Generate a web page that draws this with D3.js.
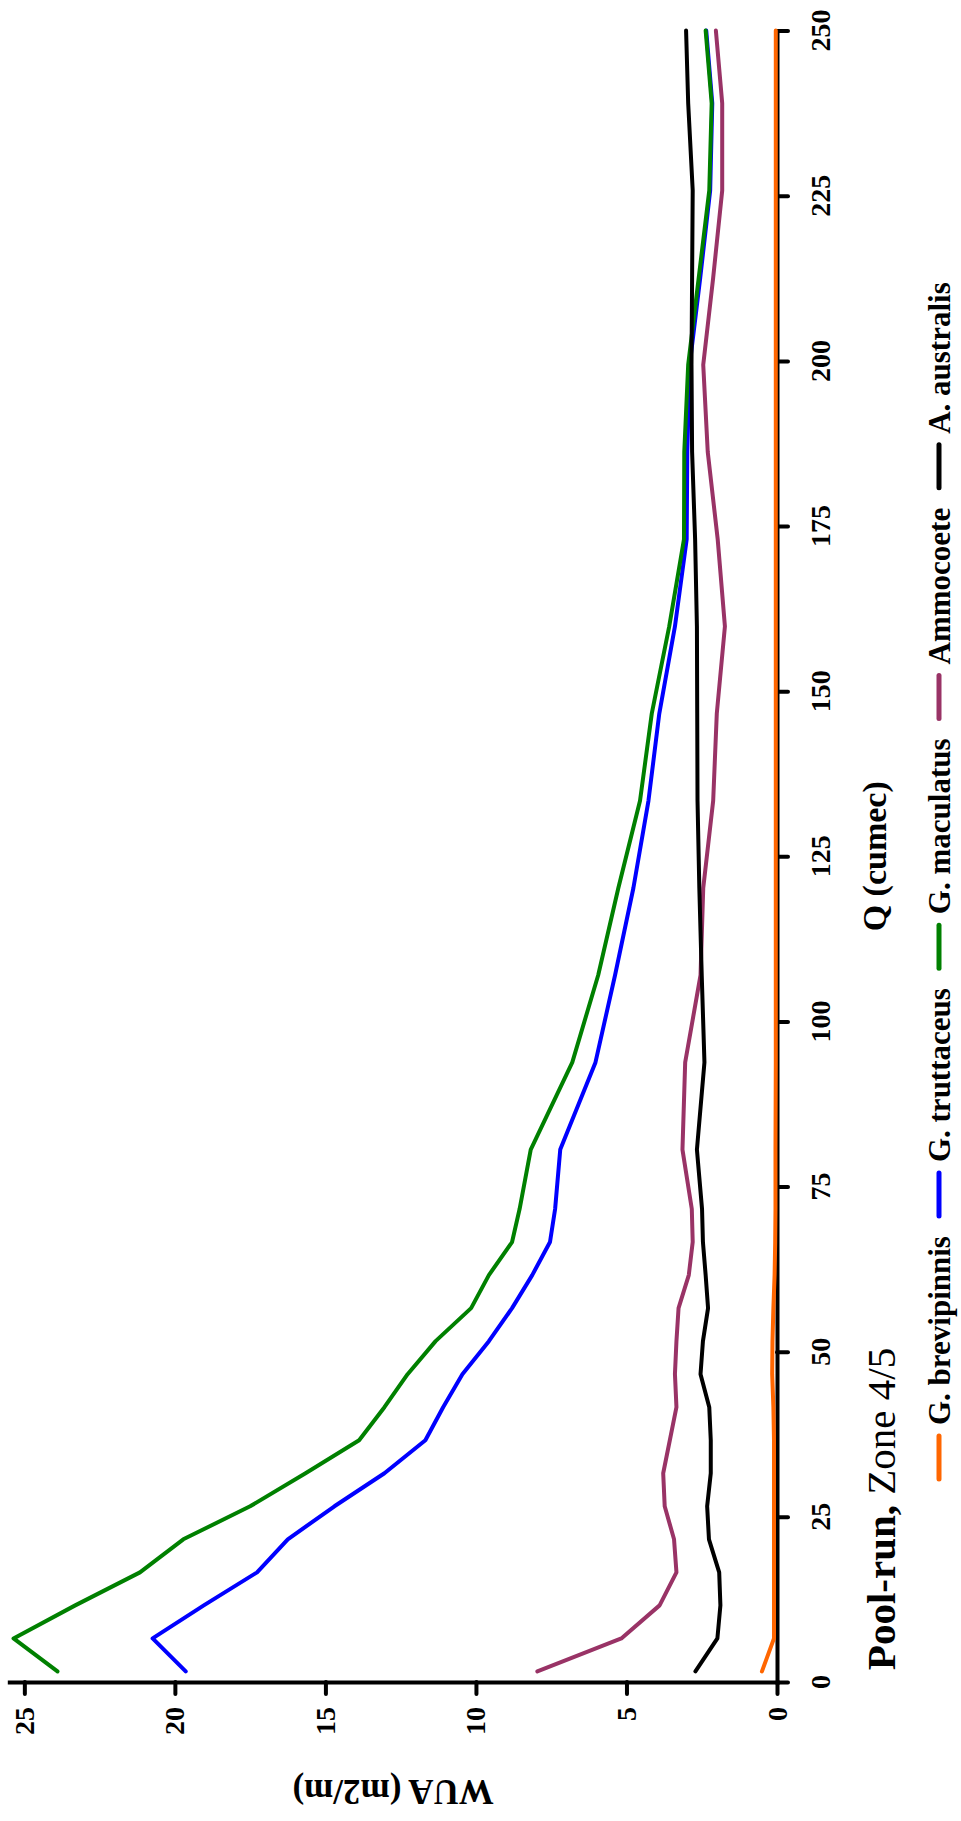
<!DOCTYPE html>
<html>
<head>
<meta charset="utf-8">
<script src="https://cdn.jsdelivr.net/npm/d3@7"></script>
<style>
  body { margin: 0; background: #fff; }
  text { font-family: "Liberation Serif", "Times New Roman", serif; fill: #000; }
</style>
</head>
<body>
<svg id="chart" width="961" height="1821"></svg>
<script>
// ---- data ----
const discharge = [1.6, 6.6, 11.6, 16.6, 21.6, 26.6, 31.6, 36.6, 41.6, 46.6, 51.6, 56.6, 61.6, 66.6, 71.6,
  80.6, 93.8, 107, 120.2, 133.4, 146.6, 159.8, 173, 186.2, 199.4, 212.6, 225.8, 239, 250];
const gBrevipinnis = [0.5, 0.1, 0.1, 0.1, 0.1, 0.1, 0.1, 0.1, 0.12, 0.16, 0.15, 0.12, 0.08, 0.06, 0.05,
  0.05, 0.04, 0.04, 0.04, 0.04, 0.04, 0.04, 0.04, 0.04, 0.04, 0.04, 0.04, 0.04, 0.04];
const gTruttaceus = [19.64, 20.74, 19.04, 17.27, 16.25, 14.7, 13.04, 11.68, 11.09, 10.45, 9.57, 8.8, 8.13, 7.54, 7.37,
  7.2, 6.03, 5.38, 4.77, 4.27, 3.91, 3.39, 3.0, 2.98, 2.9, 2.55, 2.22, 2.15, 2.35];
const gMaculatus = [23.9, 25.36, 23.31, 21.16, 19.72, 17.5, 15.66, 13.88, 13.04, 12.27, 11.34, 10.16, 9.57, 8.8, 8.55,
  8.18, 6.8, 5.94, 5.27, 4.55, 4.16, 3.58, 3.09, 3.08, 2.95, 2.6, 2.25, 2.17, 2.37];
const ammocoete = [7.96, 5.17, 3.9, 3.34, 3.42, 3.73, 3.78, 3.56, 3.34, 3.39, 3.34, 3.27, 2.93, 2.8, 2.83,
  3.14, 3.05, 2.54, 2.45, 2.12, 2.0, 1.73, 1.97, 2.3, 2.45, 2.12, 1.82, 1.82, 2.03];
const aAustralis = [2.71, 1.98, 1.88, 1.92, 2.26, 2.32, 2.2, 2.2, 2.25, 2.54, 2.46, 2.29, 2.37, 2.46, 2.49,
  2.66, 2.41, 2.5, 2.58, 2.64, 2.65, 2.66, 2.72, 2.82, 2.84, 2.82, 2.8, 2.95, 3.02];

const seriesNames = ["G. brevipinnis", "G. truttaceus", "G. maculatus", "Ammocoete", "A. australis"];
const seriesValues = [gBrevipinnis, gTruttaceus, gMaculatus, ammocoete, aAustralis];
const seriesColors = ["#FF6600", "#0000FF", "#008000", "#993366", "#000000"];

const qTicks = [0, 25, 50, 75, 100, 125, 150, 175, 200, 225, 250];
const wuaTicks = [0, 5, 10, 15, 20, 25];
const qDomain = [0, 250];
const wuaDomain = [0, 25.5];

const titleBold = "Pool-run, ";
const titleRest = "Zone 4/5";
const qLabel = "Q (cumec)";
const wuaLabel = "WUA (m2/m)";

// ---- drawing (chart is rotated 90° counter-clockwise on the page) ----
const svg = d3.select("#chart");
svg.append("rect").attr("width", 961).attr("height", 1821).attr("fill", "#fff");

const y = d3.scaleLinear().domain(qDomain).range([1682, 30.6]);   // Q along the page height
const x = d3.scaleLinear().domain(wuaDomain).range([777, 9.3]);   // WUA along the page width

// Q axis (vertical line at WUA = 0, ticks outward to the right)
const gq = svg.append("g")
  .attr("transform", `translate(${x(0)},0)`)
  .call(d3.axisRight(y).tickValues(qTicks).tickSize(11).tickSizeOuter(0).tickFormat(""));
// WUA axis (horizontal line at Q = 0, ticks outward downward)
const gw = svg.append("g")
  .attr("transform", `translate(0,${y(0)})`)
  .call(d3.axisBottom(x).tickValues(wuaTicks).tickSize(12).tickSizeOuter(0).tickFormat(""));

[gq, gw].forEach(g => {
  g.select(".domain").attr("stroke", "#000").attr("stroke-width", 4).attr("stroke-linecap", "square");
  g.selectAll(".tick line").attr("stroke", "#000").attr("stroke-width", 4).attr("stroke-linecap", "round");
});

// tick labels (rotated)
svg.append("g").selectAll("text").data(qTicks).join("text")
  .attr("transform", d => `translate(830,${y(d)}) rotate(-90)`)
  .attr("text-anchor", "middle")
  .attr("font-size", 28).attr("font-weight", "bold")
  .text(d => d);

svg.append("g").selectAll("text").data(wuaTicks).join("text")
  .attr("transform", d => `translate(${x(d)},1707) rotate(-90)`)
  .attr("text-anchor", "end")
  .attr("dy", "0.34em")
  .attr("font-size", 28).attr("font-weight", "bold")
  .text(d => d);

// series lines
const line = d3.line().x(d => x(d[1])).y(d => y(d[0]));
svg.append("g").selectAll("path").data(seriesValues).join("path")
  .attr("d", vals => line(discharge.map((q, i) => [q, vals[i]])))
  .attr("fill", "none")
  .attr("stroke", (d, i) => seriesColors[i])
  .attr("stroke-width", 4)
  .attr("stroke-linejoin", "round")
  .attr("stroke-linecap", "round");

// axis titles
svg.append("text")
  .attr("transform", `translate(886,${y(125)}) rotate(-90)`)
  .attr("text-anchor", "middle").attr("font-size", 34).attr("font-weight", "bold")
  .text(qLabel);

svg.append("text")
  .attr("transform", `translate(${(x(wuaDomain[1]) + x(0)) / 2},1780) rotate(180)`)
  .attr("text-anchor", "middle").attr("font-size", 35).attr("font-weight", "bold")
  .text(wuaLabel);

// chart title
const title = svg.append("text")
  .attr("transform", `translate(895,1509) rotate(-90)`)
  .attr("text-anchor", "middle").attr("font-size", 41);
title.append("tspan").attr("font-weight", "bold").text(titleBold);
title.append("tspan").attr("font-weight", "normal").text(titleRest);

// legend (reads bottom to top)
const legend = svg.append("g");
let pos = 1481;
seriesNames.forEach((name, i) => {
  legend.append("line")
    .attr("x1", 939).attr("x2", 939)
    .attr("y1", pos - 2).attr("y2", pos - 45)
    .attr("stroke", seriesColors[i]).attr("stroke-width", 5).attr("stroke-linecap", "round");
  pos -= 47 + 9;
  const t = legend.append("text")
    .attr("transform", `translate(950,${pos}) rotate(-90)`)
    .attr("font-size", 31).attr("font-weight", "bold")
    .text(name);
  pos -= t.node().getComputedTextLength() + 18;
});
</script>
</body>
</html>
